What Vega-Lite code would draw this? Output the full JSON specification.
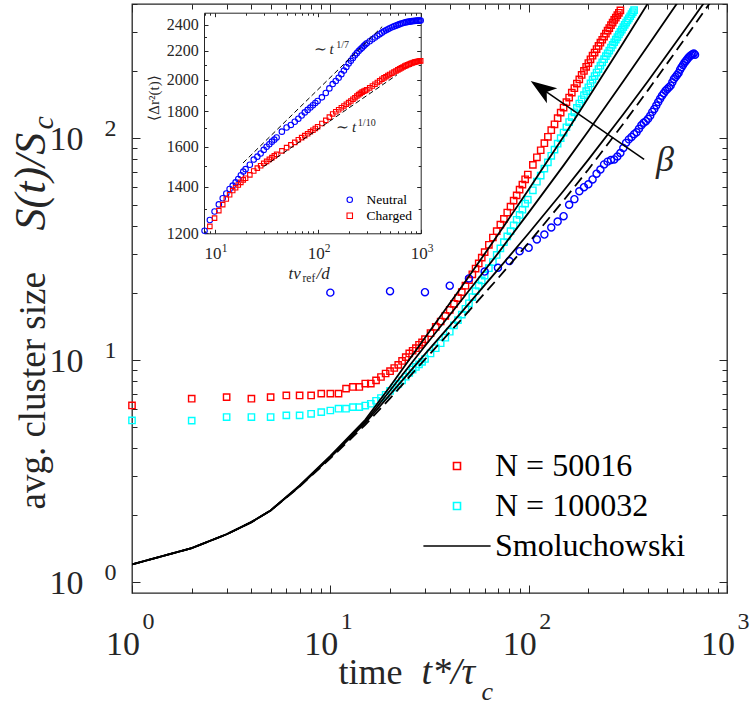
{
"$schema": "https://vega.github.io/schema/vega-lite/v6.json",
"width": 595, "height": 589,
"autosize": "none",
"padding": {"left": 132, "top": 4, "right": 28, "bottom": 113},
"background": "white",
"datasets": {
"red": [{"t":1,"S":6.24},{"t":2,"S":6.69},{"t":3,"S":6.8},{"t":4,"S":6.69},{"t":5,"S":6.8},{"t":6,"S":6.92},{"t":7,"S":6.92},{"t":8,"S":6.92},{"t":9,"S":7.05},{"t":10,"S":7.05},{"t":11,"S":7.05},{"t":12,"S":7.43},{"t":13,"S":7.56},{"t":14,"S":7.56},{"t":15,"S":7.83},{"t":16,"S":7.83},{"t":17,"S":8.09},{"t":18,"S":8.38},{"t":19,"S":8.69},{"t":20,"S":8.9},{"t":21,"S":9.2},{"t":22,"S":9.5},{"t":23,"S":9.9},{"t":24,"S":10.3},{"t":25,"S":10.7},{"t":26,"S":11.0},{"t":27,"S":11.3},{"t":28,"S":11.7},{"t":29,"S":12.0},{"t":30,"S":12.4},{"t":32,"S":13.2},{"t":34,"S":14.1},{"t":36,"S":14.9},{"t":38,"S":15.8},{"t":40,"S":16.8},{"t":42,"S":17.9},{"t":44,"S":19.0},{"t":46,"S":20.2},{"t":48,"S":21.6},{"t":50,"S":22.9},{"t":52,"S":24.3},{"t":54,"S":25.8},{"t":56,"S":27.2},{"t":58,"S":28.9},{"t":60,"S":30.6},{"t":63,"S":33.0},{"t":66,"S":35.6},{"t":69,"S":38.0},{"t":72,"S":40.7},{"t":75,"S":43.2},{"t":78,"S":46.1},{"t":81,"S":49.0},{"t":84,"S":52.2},{"t":87,"S":55.1},{"t":90,"S":58.5},{"t":93,"S":61.6},{"t":96,"S":65.1},{"t":99,"S":68.4},{"t":105,"S":75.6},{"t":110,"S":81.8},{"t":115,"S":88.0},{"t":120,"S":94.7},{"t":125,"S":101.2},{"t":130,"S":108.3},{"t":135,"S":115.2},{"t":140,"S":122.7},{"t":145,"S":130.0},{"t":150,"S":137.0},{"t":155,"S":144.8},{"t":160,"S":152.0},{"t":165,"S":160.0},{"t":170,"S":167.5},{"t":175,"S":175.8},{"t":180,"S":183.5},{"t":185,"S":192.2},{"t":190,"S":200.2},{"t":195,"S":209.0},{"t":200,"S":217.3},{"t":205,"S":226.0},{"t":210,"S":234.5},{"t":215,"S":242.4},{"t":220,"S":251.3},{"t":225,"S":259.5},{"t":230,"S":268.5},{"t":235,"S":276.8},{"t":240,"S":286.0},{"t":245,"S":294.6},{"t":250,"S":304.0},{"t":255,"S":312.5},{"t":260,"S":322.0},{"t":265,"S":330.5},{"t":270,"S":339.8},{"t":275,"S":348.0},{"t":280,"S":357.5},{"t":285,"S":366.0},{"t":290,"S":375.0}],
"cyan": [{"t":1,"S":5.34},{"t":2,"S":5.33},{"t":3,"S":5.53},{"t":4,"S":5.53},{"t":5,"S":5.53},{"t":6,"S":5.63},{"t":7,"S":5.63},{"t":8,"S":5.72},{"t":9,"S":5.82},{"t":10,"S":5.92},{"t":11,"S":6.03},{"t":12,"S":6.03},{"t":13,"S":6.13},{"t":14,"S":6.13},{"t":15,"S":6.23},{"t":16,"S":6.35},{"t":17,"S":6.55},{"t":18,"S":6.74},{"t":19,"S":6.97},{"t":20,"S":7.25},{"t":21,"S":7.5},{"t":22,"S":7.8},{"t":23,"S":8.1},{"t":24,"S":8.4},{"t":25,"S":8.75},{"t":26,"S":9.05},{"t":27,"S":9.3},{"t":28,"S":9.55},{"t":29,"S":9.8},{"t":30,"S":10.1},{"t":32,"S":10.7},{"t":34,"S":11.3},{"t":36,"S":11.9},{"t":38,"S":12.6},{"t":40,"S":13.4},{"t":42,"S":14.3},{"t":44,"S":15.1},{"t":46,"S":16.0},{"t":48,"S":17.0},{"t":50,"S":18.0},{"t":52,"S":19.2},{"t":54,"S":20.4},{"t":56,"S":21.6},{"t":58,"S":22.8},{"t":60,"S":24.0},{"t":63,"S":25.9},{"t":66,"S":27.6},{"t":69,"S":29.7},{"t":72,"S":31.8},{"t":75,"S":33.9},{"t":78,"S":36.0},{"t":81,"S":38.0},{"t":84,"S":40.4},{"t":87,"S":42.8},{"t":90,"S":45.0},{"t":93,"S":47.5},{"t":96,"S":50.6},{"t":99,"S":52.7},{"t":105,"S":58.1},{"t":110,"S":63.5},{"t":115,"S":67.7},{"t":120,"S":72.7},{"t":125,"S":77.6},{"t":130,"S":83.1},{"t":135,"S":88.6},{"t":140,"S":94.2},{"t":145,"S":99.8},{"t":150,"S":105.7},{"t":155,"S":111.7},{"t":160,"S":117.9},{"t":165,"S":124.1},{"t":170,"S":130.4},{"t":175,"S":136.6},{"t":180,"S":142.8},{"t":185,"S":149.3},{"t":190,"S":155.8},{"t":195,"S":162.4},{"t":200,"S":169.0},{"t":205,"S":175.9},{"t":210,"S":182.9},{"t":215,"S":190.0},{"t":220,"S":197.0},{"t":225,"S":204.2},{"t":230,"S":211.5},{"t":235,"S":219.0},{"t":240,"S":226.2},{"t":245,"S":233.3},{"t":250,"S":240.5},{"t":255,"S":247.5},{"t":260,"S":254.9},{"t":265,"S":262.3},{"t":270,"S":269.7},{"t":275,"S":277.1},{"t":280,"S":284.7},{"t":285,"S":292.3},{"t":290,"S":300.0},{"t":295,"S":307.7},{"t":300,"S":315.5},{"t":305,"S":323.2},{"t":310,"S":330.7},{"t":315,"S":338.1},{"t":320,"S":345.7},{"t":325,"S":353.2},{"t":330,"S":360.8},{"t":335,"S":368.4},{"t":340,"S":376.0}],
"blue": [{"t":10,"S":20.1},{"t":20,"S":20.4},{"t":30,"S":20.2},{"t":40,"S":21.6},{"t":50,"S":23.3},{"t":60,"S":25.0},{"t":70,"S":26.0},{"t":80,"S":27.9},{"t":90,"S":30.9},{"t":100,"S":32.0},{"t":110,"S":34.9},{"t":120,"S":36.7},{"t":130,"S":39.5},{"t":140,"S":42.0},{"t":150,"S":44.4},{"t":160,"S":50.0},{"t":170,"S":53.0},{"t":180,"S":57.5},{"t":190,"S":60.0},{"t":200,"S":61.8},{"t":210,"S":65.0},{"t":220,"S":69.0},{"t":230,"S":72.0},{"t":240,"S":76.0},{"t":250,"S":78.2},{"t":260,"S":79.5},{"t":270,"S":80.0},{"t":280,"S":82.5},{"t":290,"S":85.5},{"t":300,"S":90.0},{"t":310,"S":95.0},{"t":320,"S":98.5},{"t":330,"S":101},{"t":340,"S":104},{"t":350,"S":106},{"t":360,"S":110},{"t":370,"S":114},{"t":380,"S":117},{"t":390,"S":119},{"t":400,"S":122},{"t":410,"S":126},{"t":420,"S":131},{"t":430,"S":135},{"t":440,"S":140},{"t":450,"S":145},{"t":460,"S":150},{"t":470,"S":155},{"t":480,"S":159},{"t":490,"S":163},{"t":500,"S":166},{"t":510,"S":169},{"t":520,"S":172},{"t":530,"S":178},{"t":540,"S":184},{"t":550,"S":188},{"t":560,"S":192},{"t":570,"S":196},{"t":580,"S":203},{"t":590,"S":208},{"t":600,"S":213},{"t":610,"S":218},{"t":620,"S":222},{"t":630,"S":226},{"t":640,"S":230},{"t":650,"S":233},{"t":660,"S":236},{"t":670,"S":238},{"t":680,"S":240},{"t":690,"S":237}],
"smol": [{"curve":"c1","t":1,"S":1.2},{"curve":"c1","t":2,"S":1.42},{"curve":"c1","t":3,"S":1.64},{"curve":"c1","t":4,"S":1.86},{"curve":"c1","t":5,"S":2.1},{"curve":"c1","t":7,"S":2.72},{"curve":"c1","t":10,"S":3.7},{"curve":"c1","t":15,"S":5.37},{"curve":"c1","t":20,"S":7.59},{"curve":"c1","t":30,"S":12.6},{"curve":"c1","t":45,"S":20.8},{"curve":"c1","t":70,"S":36.6},{"curve":"c1","t":100,"S":58.6},{"curve":"c1","t":150,"S":101.6},{"curve":"c1","t":200,"S":151.6},{"curve":"c1","t":300,"S":268.5},{"curve":"c1","t":400,"S":405},{"curve":"c1","t":450,"S":479},
{"curve":"c2","t":1,"S":1.2},{"curve":"c2","t":2,"S":1.42},{"curve":"c2","t":3,"S":1.64},{"curve":"c2","t":4,"S":1.86},{"curve":"c2","t":5,"S":2.1},{"curve":"c2","t":7,"S":2.71},{"curve":"c2","t":10,"S":3.66},{"curve":"c2","t":15,"S":5.27},{"curve":"c2","t":20,"S":7.28},{"curve":"c2","t":30,"S":11.55},{"curve":"c2","t":45,"S":18.19},{"curve":"c2","t":70,"S":30.2},{"curve":"c2","t":100,"S":46.1},{"curve":"c2","t":150,"S":75.2},{"curve":"c2","t":200,"S":107.5},{"curve":"c2","t":300,"S":179.8},{"curve":"c2","t":400,"S":260.6},{"curve":"c2","t":600,"S":441.5},
{"curve":"c3","t":1,"S":1.2},{"curve":"c3","t":2,"S":1.42},{"curve":"c3","t":3,"S":1.64},{"curve":"c3","t":4,"S":1.86},{"curve":"c3","t":5,"S":2.1},{"curve":"c3","t":7,"S":2.7},{"curve":"c3","t":10,"S":3.64},{"curve":"c3","t":15,"S":5.2},{"curve":"c3","t":20,"S":6.98},{"curve":"c3","t":30,"S":10.63},{"curve":"c3","t":45,"S":16.09},{"curve":"c3","t":70,"S":25.5},{"curve":"c3","t":100,"S":37.2},{"curve":"c3","t":150,"S":57.8},{"curve":"c3","t":200,"S":79.8},{"curve":"c3","t":300,"S":127.8},{"curve":"c3","t":400,"S":180.4},{"curve":"c3","t":600,"S":298.4},{"curve":"c3","t":800,"S":428.7}],
"smoldash": [{"t":1,"S":1.2},{"t":2,"S":1.42},{"t":3,"S":1.64},{"t":4,"S":1.86},{"t":5,"S":2.1},{"t":7,"S":2.69},{"t":10,"S":3.6},{"t":15,"S":5.1},{"t":20,"S":6.71},{"t":30,"S":10.06},{"t":45,"S":14.96},{"t":70,"S":23.3},{"t":100,"S":33.7},{"t":150,"S":52.3},{"t":200,"S":72.1},{"t":300,"S":115.9},{"t":400,"S":164.2},{"t":600,"S":272.5},{"t":800,"S":392.6},{"t":1000,"S":521}],
"neutral": [{"t":8,"S":1210},{"t":9,"S":1254},{"t":10,"S":1290},{"t":11,"S":1321},{"t":12,"S":1348},{"t":13,"S":1370},{"t":14,"S":1390},{"t":15,"S":1406},{"t":16,"S":1421},{"t":17,"S":1437},{"t":18,"S":1455},{"t":19,"S":1473},{"t":20,"S":1485},{"t":22,"S":1507},{"t":24,"S":1533},{"t":26,"S":1548},{"t":28,"S":1564},{"t":30,"S":1583},{"t":32,"S":1600},{"t":34,"S":1613},{"t":36,"S":1627},{"t":38,"S":1638},{"t":40,"S":1650},{"t":45,"S":1682},{"t":50,"S":1705},{"t":55,"S":1720},{"t":60,"S":1738},{"t":65,"S":1756},{"t":70,"S":1775},{"t":75,"S":1793},{"t":80,"S":1808},{"t":85,"S":1822},{"t":90,"S":1836},{"t":95,"S":1850},{"t":100,"S":1862},{"t":110,"S":1885},{"t":120,"S":1912},{"t":130,"S":1942},{"t":140,"S":1970},{"t":150,"S":1990},{"t":160,"S":2012},{"t":170,"S":2036},{"t":180,"S":2060},{"t":190,"S":2085},{"t":200,"S":2110},{"t":210,"S":2128},{"t":220,"S":2148},{"t":230,"S":2167},{"t":240,"S":2183},{"t":250,"S":2198},{"t":260,"S":2211},{"t":270,"S":2223},{"t":280,"S":2236},{"t":290,"S":2246},{"t":300,"S":2256},{"t":320,"S":2271},{"t":340,"S":2286},{"t":360,"S":2300},{"t":380,"S":2313},{"t":400,"S":2325},{"t":420,"S":2337},{"t":440,"S":2347},{"t":460,"S":2356},{"t":480,"S":2364},{"t":500,"S":2371},{"t":525,"S":2379},{"t":550,"S":2386},{"t":575,"S":2392},{"t":600,"S":2398},{"t":625,"S":2404},{"t":650,"S":2409},{"t":675,"S":2413},{"t":700,"S":2417},{"t":725,"S":2420},{"t":750,"S":2422},{"t":775,"S":2424},{"t":800,"S":2426},{"t":825,"S":2428},{"t":850,"S":2429},{"t":875,"S":2430},{"t":900,"S":2431},{"t":925,"S":2432},{"t":950,"S":2432},{"t":975,"S":2433},{"t":1000,"S":2433}],
"charged": [{"t":9,"S":1228},{"t":10,"S":1262},{"t":11,"S":1294},{"t":12,"S":1320},{"t":13,"S":1345},{"t":14,"S":1364},{"t":15,"S":1383},{"t":16,"S":1396},{"t":17,"S":1409},{"t":18,"S":1421},{"t":19,"S":1433},{"t":20,"S":1441},{"t":22,"S":1457},{"t":24,"S":1476},{"t":26,"S":1490},{"t":28,"S":1502},{"t":30,"S":1514},{"t":32,"S":1524},{"t":34,"S":1534},{"t":36,"S":1543},{"t":38,"S":1552},{"t":40,"S":1560},{"t":45,"S":1578},{"t":50,"S":1595},{"t":55,"S":1610},{"t":60,"S":1623},{"t":65,"S":1637},{"t":70,"S":1649},{"t":75,"S":1660},{"t":80,"S":1670},{"t":85,"S":1681},{"t":90,"S":1690},{"t":95,"S":1700},{"t":100,"S":1710},{"t":110,"S":1728},{"t":120,"S":1746},{"t":130,"S":1765},{"t":140,"S":1784},{"t":150,"S":1797},{"t":160,"S":1809},{"t":170,"S":1821},{"t":180,"S":1832},{"t":190,"S":1842},{"t":200,"S":1852},{"t":210,"S":1862},{"t":220,"S":1873},{"t":230,"S":1883},{"t":240,"S":1893},{"t":250,"S":1902},{"t":260,"S":1910},{"t":270,"S":1918},{"t":280,"S":1924},{"t":290,"S":1928},{"t":300,"S":1933},{"t":320,"S":1945},{"t":340,"S":1957},{"t":360,"S":1969},{"t":380,"S":1980},{"t":400,"S":1991},{"t":420,"S":2002},{"t":440,"S":2011},{"t":460,"S":2019},{"t":480,"S":2027},{"t":500,"S":2034},{"t":525,"S":2042},{"t":550,"S":2050},{"t":575,"S":2057},{"t":600,"S":2065},{"t":625,"S":2072},{"t":650,"S":2079},{"t":675,"S":2085},{"t":700,"S":2091},{"t":725,"S":2096},{"t":750,"S":2101},{"t":775,"S":2105},{"t":800,"S":2109},{"t":825,"S":2113},{"t":850,"S":2116},{"t":875,"S":2119},{"t":900,"S":2121},{"t":925,"S":2123},{"t":950,"S":2125},{"t":975,"S":2127},{"t":1000,"S":2128}],
"fits": [{"fit":"neutral","t":18.9,"S":1516},{"fit":"neutral","t":423,"S":2384},{"fit":"charged","t":29.8,"S":1497},{"fit":"charged","t":588,"S":2031}],
"notes": [{"t":89.8,"S":2175,"label":"∼ t"},{"t":147.9,"S":1682,"label":"∼ t"}],
"sups": [{"t":151.2,"S":2218,"label":"1/7"},{"t":245.6,"S":1714,"label":"1/10"}]
},
"layer": [
{
"layer": [
{"data": {"name": "red"},
 "mark": {"type": "point", "filled": false, "size": 40, "strokeWidth": 1.4, "opacity": 1},
 "encoding": {
  "x": {"field": "t", "type": "quantitative", "scale": {"type": "log", "domain": [1, 1000], "nice": false},
   "axis": {"orient": "bottom", "values": [1, 10, 100, 1000], "tickSize": -8, "labelExpr": "'10'", "labelFontSize": 34, "labelPadding": 69, "labelBaseline": "alphabetic", "labelAlign": "center", "labelOffset": -9.5, "title": "time", "titleFontSize": 36, "titleX": 206, "titleY": 90, "titleAlign": "left", "titleBaseline": "alphabetic", "titleAngle": 0}},
  "y": {"field": "S", "type": "quantitative", "scale": {"type": "log", "domain": [0.892, 401], "nice": false},
   "axis": {"orient": "left", "values": [1, 10, 100], "tickSize": -8, "labelExpr": "'10'", "labelFontSize": 34, "labelPadding": 57, "labelAlign": "right", "labelBaseline": "alphabetic", "labelOffset": 11.5, "title": "avg. cluster size", "titleFontSize": 37, "titleAngle": -90, "titleAlign": "left", "titleBaseline": "alphabetic", "titleX": -88, "titleY": 505}},
  "color": {"datum": "N = 50016", "type": "nominal", "scale": {"domain": ["N = 50016", "N = 100032", "Smoluchowski"], "range": ["#ff0000", "#00ffff", "#000000"]},
   "legend": {"orient": "none", "legendX": 309, "legendY": 446, "title": null, "labelFont": "Liberation Serif", "labelFontSize": 32, "labelColor": "#000000", "labelLimit": 0, "symbolSize": 49, "symbolStrokeWidth": 1.6, "labelOffset": 22, "rowPadding": 8, "padding": 0}},
  "shape": {"datum": "N = 50016", "type": "nominal", "scale": {"domain": ["N = 50016", "N = 100032", "Smoluchowski"], "range": ["square", "square", "M-9.6,0L9.6,0"]},
   "legend": {"orient": "none", "legendX": 309, "legendY": 446, "title": null, "labelFont": "Liberation Serif", "labelFontSize": 32, "labelColor": "#000000", "labelLimit": 0, "symbolSize": 49, "symbolStrokeWidth": 1.6, "labelOffset": 22, "rowPadding": 8, "padding": 0}}
 }},
{"data": {"name": "cyan"},
 "mark": {"type": "point", "filled": false, "size": 40, "strokeWidth": 1.4, "opacity": 1},
 "encoding": {
  "x": {"field": "t", "type": "quantitative", "scale": {"type": "log", "domain": [1, 1000], "nice": false},
   "axis": {"orient": "bottom", "values": [1, 10, 100, 1000], "ticks": false, "labelExpr": "toString(round(log(datum.value)/LN10))", "labelFontSize": 24, "labelPadding": 35, "labelBaseline": "alphabetic", "labelAlign": "center", "labelOffset": 16, "title": "t*/τ", "titleFontStyle": "italic", "titleFontSize": 38, "titleX": 289, "titleY": 90, "titleAlign": "left", "titleBaseline": "alphabetic", "titleAngle": 0}},
  "y": {"field": "S", "type": "quantitative", "scale": {"type": "log", "domain": [0.892, 401], "nice": false},
   "axis": {"orient": "left", "values": [1, 10, 100], "tickSize": 0, "labelExpr": "toString(round(log(datum.value)/LN10))", "labelFontSize": 24, "labelPadding": 22, "labelAlign": "center", "labelBaseline": "alphabetic", "labelOffset": -2, "title": "S(t)/S", "titleFontStyle": "italic", "titleFontSize": 44, "titleAngle": -90, "titleAlign": "left", "titleBaseline": "alphabetic", "titleX": -88, "titleY": 226}},
  "color": {"datum": "N = 100032", "type": "nominal", "scale": {"domain": ["N = 50016", "N = 100032", "Smoluchowski"], "range": ["#ff0000", "#00ffff", "#000000"]},
   "legend": {"orient": "none", "legendX": 309, "legendY": 446, "title": null, "labelFont": "Liberation Serif", "labelFontSize": 32, "labelColor": "#000000", "labelLimit": 0, "symbolSize": 49, "symbolStrokeWidth": 1.6, "labelOffset": 22, "rowPadding": 8, "padding": 0}},
  "shape": {"datum": "N = 100032", "type": "nominal", "scale": {"domain": ["N = 50016", "N = 100032", "Smoluchowski"], "range": ["square", "square", "M-9.6,0L9.6,0"]},
   "legend": {"orient": "none", "legendX": 309, "legendY": 446, "title": null, "labelFont": "Liberation Serif", "labelFontSize": 32, "labelColor": "#000000", "labelLimit": 0, "symbolSize": 49, "symbolStrokeWidth": 1.6, "labelOffset": 22, "rowPadding": 8, "padding": 0}}
 }},
{"data": {"name": "blue"},
 "mark": {"type": "point", "shape": "circle", "filled": false, "size": 50, "strokeWidth": 1.4, "opacity": 1, "color": "#0000ff"},
 "encoding": {
  "x": {"field": "t", "type": "quantitative", "scale": {"type": "log", "domain": [1, 1000], "nice": false},
   "axis": {"orient": "bottom", "values": [2,3,4,5,6,7,8,9,20,30,40,50,60,70,80,90,200,300,400,500,600,700,800,900], "tickSize": -5, "labels": false, "title": "c", "titleFontStyle": "italic", "titleFontSize": 26, "titleX": 349, "titleY": 106, "titleAlign": "left", "titleBaseline": "alphabetic", "titleAngle": 0}},
  "y": {"field": "S", "type": "quantitative", "scale": {"type": "log", "domain": [0.892, 401], "nice": false},
   "axis": {"orient": "left", "values": [2,3,4,5,6,7,8,9,20,30,40,50,60,70,80,90,200,300,400], "tickSize": -5, "labels": false, "title": "c", "titleFontStyle": "italic", "titleFontSize": 30, "titleAngle": -90, "titleAlign": "left", "titleBaseline": "alphabetic", "titleX": -80, "titleY": 125}}
 }},
{"data": {"name": "smol"},
 "mark": {"type": "line", "strokeWidth": 1.8, "clip": true},
 "encoding": {
  "x": {"field": "t", "type": "quantitative", "scale": {"type": "log", "domain": [1, 1000], "nice": false},
   "axis": {"orient": "top", "values": [1, 10, 100, 1000], "tickSize": -8, "labels": false, "title": null}},
  "y": {"field": "S", "type": "quantitative", "scale": {"type": "log", "domain": [0.892, 401], "nice": false},
   "axis": {"orient": "right", "values": [1, 10, 100], "tickSize": -8, "labels": false, "title": null}},
  "color": {"datum": "Smoluchowski", "type": "nominal", "scale": {"domain": ["N = 50016", "N = 100032", "Smoluchowski"], "range": ["#ff0000", "#00ffff", "#000000"]},
   "legend": {"orient": "none", "legendX": 309, "legendY": 446, "title": null, "labelFont": "Liberation Serif", "labelFontSize": 32, "labelColor": "#000000", "labelLimit": 0, "symbolSize": 49, "symbolStrokeWidth": 1.6, "labelOffset": 22, "rowPadding": 8, "padding": 0}},
  "detail": {"field": "curve", "type": "nominal"}
 }},
{"data": {"name": "smoldash"},
 "mark": {"type": "line", "strokeWidth": 1.8, "strokeDash": [11, 6], "color": "#000000", "clip": true},
 "encoding": {
  "x": {"field": "t", "type": "quantitative", "scale": {"type": "log", "domain": [1, 1000], "nice": false},
   "axis": {"orient": "top", "values": [2,3,4,5,6,7,8,9,20,30,40,50,60,70,80,90,200,300,400,500,600,700,800,900], "tickSize": -5, "labels": false, "title": null}},
  "y": {"field": "S", "type": "quantitative", "scale": {"type": "log", "domain": [0.892, 401], "nice": false},
   "axis": {"orient": "right", "values": [2,3,4,5,6,7,8,9,20,30,40,50,60,70,80,90,200,300,400], "tickSize": -5, "labels": false, "title": null}}
 }},
{"data": {"values": [{"t": 382, "S": 80, "t2": 115.9, "S2": 167.2}]},
 "mark": {"type": "rule", "color": "#000000", "strokeWidth": 1.5},
 "encoding": {
  "x": {"field": "t", "type": "quantitative", "scale": {"type": "log", "domain": [1, 1000], "nice": false}, "axis": null},
  "y": {"field": "S", "type": "quantitative", "scale": {"type": "log", "domain": [0.892, 401], "nice": false}, "axis": null},
  "x2": {"field": "t2"}, "y2": {"field": "S2"}
 }},
{"data": {"values": [{"t": 115.9, "S": 167.2}]},
 "mark": {"type": "point", "shape": "M0,-1L0.7,1L0,0.5L-0.7,1Z", "filled": true, "size": 676, "angle": -55.3, "color": "#000000", "opacity": 1, "strokeWidth": 0},
 "encoding": {
  "x": {"field": "t", "type": "quantitative", "scale": {"type": "log", "domain": [1, 1000], "nice": false}, "axis": null},
  "y": {"field": "S", "type": "quantitative", "scale": {"type": "log", "domain": [0.892, 401], "nice": false}, "axis": null}
 }},
{"data": {"values": [{"t": 486, "S": 70.7, "label": "β"}]},
 "mark": {"type": "text", "font": "Liberation Serif", "fontSize": 36, "fontStyle": "italic", "align": "center", "baseline": "alphabetic", "color": "#262626"},
 "encoding": {
  "x": {"field": "t", "type": "quantitative", "scale": {"type": "log", "domain": [1, 1000], "nice": false}, "axis": null},
  "y": {"field": "S", "type": "quantitative", "scale": {"type": "log", "domain": [0.892, 401], "nice": false}, "axis": null},
  "text": {"field": "label"}
 }}
],
"resolve": {"axis": {"x": "independent", "y": "independent"}}
},
{
"layer": [
{"data": {"name": "neutral"},
 "mark": {"type": "point", "filled": false, "size": 30, "strokeWidth": 1.1, "opacity": 1},
 "encoding": {
  "x": {"field": "t", "type": "quantitative", "scale": {"type": "log", "domain": [7.9, 1000], "range": [72, 288.7], "nice": false},
   "axis": {"orient": "bottom", "offset": -359.7, "values": [10, 100, 1000], "tickSize": -4, "domain": true, "labelExpr": "'10'", "labelFontSize": 17, "labelPadding": 29, "labelBaseline": "alphabetic", "labelAlign": "center", "labelOffset": -2, "title": "tv", "titleFontStyle": "italic", "titleFontSize": 17, "titleX": 156, "titleY": 45, "titleAlign": "left", "titleBaseline": "alphabetic", "titleAngle": 0}},
  "y": {"field": "S", "type": "quantitative", "scale": {"type": "log", "domain": [1200, 2497], "range": [229.3, 8.7], "nice": false},
   "axis": {"orient": "left", "offset": -72, "values": [1200, 1400, 1600, 1800, 2000, 2200, 2400], "tickSize": -4, "domain": true, "format": "d", "labelFontSize": 16, "labelPadding": 9.7, "labelAlign": "right", "labelBaseline": "middle", "title": "⟨Δr²(t)⟩", "titleFontSize": 15, "titleAngle": -90, "titleAlign": "center", "titleBaseline": "alphabetic", "titleX": -46, "titleY": 93.5}},
  "color": {"datum": "Neutral", "type": "nominal", "scale": {"domain": ["Neutral", "Charged"], "range": ["#0000ff", "#ff0000"]},
   "legend": {"orient": "none", "legendX": 211, "legendY": 189, "title": null, "labelFont": "Liberation Serif", "labelFontSize": 13.5, "labelColor": "#000000", "symbolSize": 30, "symbolStrokeWidth": 1.1, "labelOffset": 10, "rowPadding": 1, "padding": 0}},
  "shape": {"datum": "Neutral", "type": "nominal", "scale": {"domain": ["Neutral", "Charged"], "range": ["circle", "square"]},
   "legend": {"orient": "none", "legendX": 211, "legendY": 189, "title": null, "labelFont": "Liberation Serif", "labelFontSize": 13.5, "labelColor": "#000000", "symbolSize": 30, "symbolStrokeWidth": 1.1, "labelOffset": 10, "rowPadding": 1, "padding": 0}}
 }},
{"data": {"name": "charged"},
 "mark": {"type": "point", "filled": false, "size": 20, "strokeWidth": 1.1, "opacity": 1},
 "encoding": {
  "x": {"field": "t", "type": "quantitative", "scale": {"type": "log", "domain": [7.9, 1000], "range": [72, 288.7], "nice": false},
   "axis": {"orient": "bottom", "offset": -359.7, "values": [10, 100, 1000], "ticks": false, "labelExpr": "toString(round(log(datum.value)/LN10))", "labelFontSize": 11.5, "labelPadding": 17.7, "labelBaseline": "alphabetic", "labelAlign": "center", "labelOffset": 9.5, "title": "ref", "titleFontSize": 11.5, "titleX": 170, "titleY": 48.5, "titleAlign": "left", "titleBaseline": "alphabetic", "titleAngle": 0}},
  "y": {"field": "S", "type": "quantitative", "scale": {"type": "log", "domain": [1200, 2497], "range": [229.3, 8.7], "nice": false},
   "axis": {"orient": "left", "offset": -72, "values": [1300, 1500, 1700, 1900, 2100, 2300], "tickSize": -2.5, "labels": false, "title": null}},
  "color": {"datum": "Charged", "type": "nominal", "scale": {"domain": ["Neutral", "Charged"], "range": ["#0000ff", "#ff0000"]}},
  "shape": {"datum": "Charged", "type": "nominal", "scale": {"domain": ["Neutral", "Charged"], "range": ["circle", "square"]}}
 }},
{"data": {"name": "fits"},
 "mark": {"type": "line", "strokeWidth": 1, "strokeDash": [5, 3], "color": "#000000"},
 "encoding": {
  "x": {"field": "t", "type": "quantitative", "scale": {"type": "log", "domain": [7.9, 1000], "range": [72, 288.7], "nice": false},
   "axis": {"orient": "bottom", "offset": -359.7, "values": [8,9,20,30,40,50,60,70,80,90,200,300,400,500,600,700,800,900], "tickSize": -2.5, "labels": false, "title": "/d", "titleFontStyle": "italic", "titleFontSize": 17, "titleX": 184, "titleY": 45, "titleAlign": "left", "titleBaseline": "alphabetic", "titleAngle": 0}},
  "y": {"field": "S", "type": "quantitative", "scale": {"type": "log", "domain": [1200, 2497], "range": [229.3, 8.7], "nice": false},
   "axis": {"orient": "right", "offset": -306.3, "values": [1200, 1400, 1600, 1800, 2000, 2200, 2400], "tickSize": -4, "domain": true, "labels": false, "title": null}},
  "detail": {"field": "fit", "type": "nominal"}
 }},
{"data": {"name": "notes"},
 "mark": {"type": "text", "font": "Liberation Serif", "fontSize": 15, "fontStyle": "italic", "align": "left", "baseline": "alphabetic", "color": "#262626"},
 "encoding": {
  "x": {"field": "t", "type": "quantitative", "scale": {"type": "log", "domain": [7.9, 1000], "range": [72, 288.7], "nice": false},
   "axis": {"orient": "top", "offset": -8.7, "values": [10, 100, 1000], "tickSize": -4, "domain": true, "labels": false, "title": null}},
  "y": {"field": "S", "type": "quantitative", "scale": {"type": "log", "domain": [1200, 2497], "range": [229.3, 8.7], "nice": false},
   "axis": {"orient": "right", "offset": -306.3, "values": [1300, 1500, 1700, 1900, 2100, 2300], "tickSize": -2.5, "labels": false, "title": null}},
  "text": {"field": "label"}
 }},
{"data": {"name": "sups"},
 "mark": {"type": "text", "font": "Liberation Serif", "fontSize": 10, "align": "left", "baseline": "alphabetic", "color": "#262626"},
 "encoding": {
  "x": {"field": "t", "type": "quantitative", "scale": {"type": "log", "domain": [7.9, 1000], "range": [72, 288.7], "nice": false},
   "axis": {"orient": "top", "offset": -8.7, "values": [8,9,20,30,40,50,60,70,80,90,200,300,400,500,600,700,800,900], "tickSize": -2.5, "labels": false, "title": null}},
  "y": {"field": "S", "type": "quantitative", "scale": {"type": "log", "domain": [1200, 2497], "range": [229.3, 8.7], "nice": false}, "axis": null},
  "text": {"field": "label"}
 }}
],
"resolve": {"axis": {"x": "independent", "y": "independent"}}
}
],
"resolve": {
 "scale": {"x": "independent", "y": "independent", "color": "independent", "shape": "independent"},
 "axis": {"x": "independent", "y": "independent"},
 "legend": {"color": "independent", "shape": "independent"}
},
"config": {
 "font": "Liberation Serif",
 "view": {"stroke": "#262626", "strokeWidth": 1.3},
 "legend": {"labelFont": "Liberation Serif"},
 "axis": {"grid": false, "domain": false, "domainColor": "#262626", "domainWidth": 1, "tickColor": "#262626", "tickWidth": 1, "labelColor": "#262626", "titleColor": "#262626", "labelFont": "Liberation Serif", "titleFont": "Liberation Serif", "titleFontWeight": "normal", "labelFlush": false, "labelOverlap": false, "labelBound": false}
}
}
